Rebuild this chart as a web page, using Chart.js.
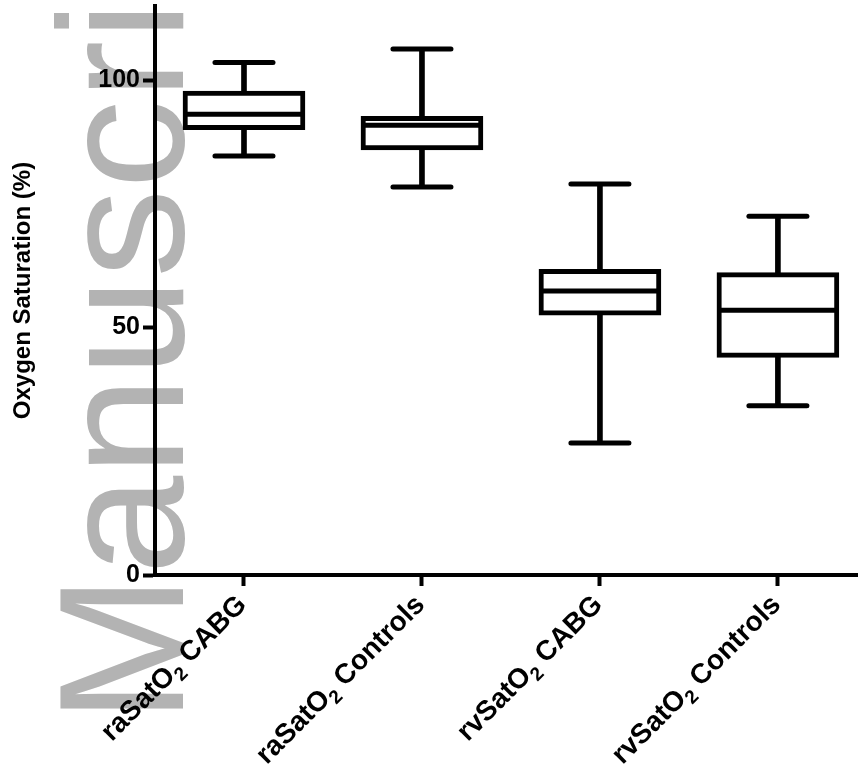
<!DOCTYPE html>
<html>
<head>
<meta charset="utf-8">
<script src="https://cdn.jsdelivr.net/npm/chart.js@4.4.1/dist/chart.umd.min.js"></script>
<style>
  html, body { margin: 0; padding: 0; background: #fff; }
  #wrap { width: 858px; height: 769px; position: relative; }
</style>
</head>
<body>
<div id="wrap"><canvas id="boxChart"></canvas></div>
<script>
// Box plot values (%)
const categories = ["raSatO\u2082 CABG", "raSatO\u2082 Controls", "rvSatO\u2082 CABG", "rvSatO\u2082 Controls"];
const mins    = [84.7, 78.4, 26.7, 34.2];
const q1s     = [90.0, 85.9, 52.5, 44.0];
const medians = [93.1, 90.9, 57.4, 53.5];
const q3s     = [97.8, 92.7, 61.8, 61.1];
const maxs    = [103.6, 106.3, 79.0, 72.5];
const yTicks  = [0, 50, 100];

const FONT = "'Liberation Sans', Arial, Helvetica, sans-serif";
const LABEL_SIZE = 28;

// grey watermark behind everything
const watermark = {
    id: "watermark",
    beforeDraw(chart) {
        const c = chart.ctx;
        c.save();
        c.translate(183, 723);
        c.rotate(-Math.PI / 2);
        c.font = "178px " + FONT;
        c.fillStyle = "#b3b3b3";
        c.textBaseline = "alphabetic";
        c.fillText("Manuscript", 0, 0);
        c.restore();
    },
    // round ends on the whisker caps
    beforeDatasetsDraw(chart) { chart.ctx.lineCap = "round"; },
    afterDatasetsDraw(chart) { chart.ctx.lineCap = "butt"; }
};

// x labels at 45deg, with a real subscript for the "2"
const subLabels = {
    id: "subLabels",
    afterDraw(chart) {
        const c = chart.ctx;
        const xs = chart.scales.x;
        const big = "bold " + LABEL_SIZE + "px " + FONT;
        const small = "bold " + Math.round(LABEL_SIZE * 0.68) + "px " + FONT;
        categories.forEach((label, i) => {
            const parts = label.split("\u2082");
            const pieces = [
                { t: parts[0], f: big, dy: 0 },
                { t: "2", f: small, dy: LABEL_SIZE * 0.24 },
                { t: parts[1], f: big, dy: 0 }
            ];
            let total = 0;
            pieces.forEach(p => { c.font = p.f; p.w = c.measureText(p.t).width; total += p.w; });
            c.save();
            c.translate(xs.getPixelForValue(i) + 4, chart.chartArea.bottom + 31);
            c.rotate(-Math.PI / 4);
            c.fillStyle = "#000";
            c.textAlign = "left";
            c.textBaseline = "alphabetic";
            let x = -total;
            pieces.forEach(p => { c.font = p.f; c.fillText(p.t, x, p.dy); x += p.w; });
            c.restore();
        });
    }
};

const idx = categories.map((_, i) => i);

const ctx = document.getElementById("boxChart").getContext("2d");
const chart = new Chart(ctx, {
    type: "bar",
    data: {
        datasets: [
            {
                // whiskers
                type: "bar",
                data: idx.map(i => ({ x: i, y: [mins[i], maxs[i]] })),
                backgroundColor: "#000",
                borderWidth: 0,
                barThickness: 5,
                grouped: false,
                order: 3
            },
            {
                // boxes
                type: "bar",
                data: idx.map(i => ({ x: i, y: [q1s[i], q3s[i]] })),
                backgroundColor: "#fff",
                borderColor: "#000",
                borderWidth: 5,
                borderSkipped: false,
                barThickness: 122,
                grouped: false,
                order: 2
            },
            {
                // medians
                type: "scatter",
                data: idx.map(i => ({ x: i, y: medians[i] })),
                pointStyle: "line",
                pointRadius: 58,
                borderColor: "#000",
                borderWidth: 5,
                order: 1
            },
            {
                // whisker caps
                type: "scatter",
                data: idx.flatMap(i => [{ x: i, y: mins[i] }, { x: i, y: maxs[i] }]),
                pointStyle: "line",
                pointRadius: 29,
                borderColor: "#000",
                borderWidth: 5,
                order: 1
            }
        ]
    },
    options: {
        responsive: true,
        maintainAspectRatio: false,
        animation: false,
        layout: { autoPadding: false, padding: { top: 6, right: 0, left: 0, bottom: 0 } },
        plugins: { legend: { display: false }, tooltip: { enabled: false } },
        scales: {
            x: {
                type: "linear",
                min: -0.5,
                max: 3.45,
                offset: false,
                afterBuildTicks: s => { s.ticks = idx.map(v => ({ value: v })); },
                afterFit: s => { s.height = 194; s.paddingLeft = 0; s.paddingRight = 0; },
                grid: { display: true, offset: false, drawOnChartArea: false, tickLength: 11, tickColor: "#000", tickWidth: 4 },
                border: { display: true, color: "#000", width: 4 },
                ticks: { display: false }
            },
            y: {
                min: 0,
                max: 115,
                afterBuildTicks: s => { s.ticks = yTicks.map(v => ({ value: v })); },
                afterFit: s => { s.width = 155; s.paddingTop = 0; s.paddingBottom = 0; },
                grid: { display: true, drawOnChartArea: false, tickLength: 12, tickColor: "#000", tickWidth: 4 },
                border: { display: true, color: "#000", width: 4 },
                ticks: {
                    padding: 3,
                    color: "#000",
                    font: { family: FONT, size: 25, weight: "bold" }
                },
                title: {
                    display: true,
                    text: "Oxygen Saturation (%)",
                    color: "#000",
                    padding: { top: 9, bottom: 0 },
                    font: { family: FONT, size: 24, weight: "bold" }
                }
            }
        }
    },
    plugins: [watermark, subLabels]
});
</script>
</body>
</html>
